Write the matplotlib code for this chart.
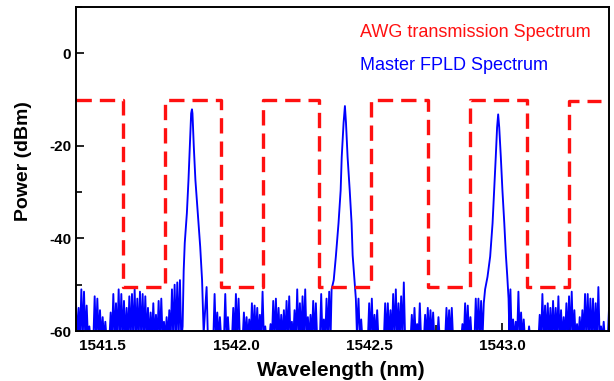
import numpy as np
import matplotlib
matplotlib.use('Agg')
import matplotlib.pyplot as plt
from matplotlib.ticker import MultipleLocator

# AWG transmission: step edges (nm) and levels (dBm)
awg_edges = [1541.40, 1541.576, 1541.733, 1541.945, 1542.102, 1542.312,
             1542.506, 1542.720, 1542.879, 1543.092, 1543.250, 1543.370]
awg_levels = [-10, -50.5, -10, -50.5, -10, -50.5, -10, -50.5, -10, -50.5, -10.2]

# Master FPLD noise spikes, one every 0.01 nm from 1541.40 (None = under a peak)
noise_start = 1541.40
noise_step = 0.01
noise_floor = -62.0
noise_db = [
    -54, -55, -51, -51.5, -54.5, -59, -61, -52.5, -53, -55.5,
    -57, -58, -61, -56, -52, -54, -51, -52, -53.5, -55,
    -52.5, -52, -51, -53, -51.5, -52, -52.5, -55, -56, -54,
    -56.5, -53.5, -53, -58, -57, -55.5, -51, -50, -49.5, -49,
    -59,
    None, None, None, None, None, None, None, None,
    -50.5,
    -60.5, -60, -52, -56, -57, -61, -52, -57, -61, -55,
    -52, -53, -61, -56, -57, -57.5, -54, -54.5, -55, -56.5,
    -51.5, -59, -61, -58.5, -53.5, -53, -55, -56.5, -55.5, -53.5,
    -52.5, -58, -55.5, -51, -54, -52.5, -51, -57, -56.5, -53.5,
    -54, -61, -52, -57.5, -53, -51.5,
    None, None, None, None, None, None, None, None, None, None,
    -53, -57.5, -61, -61, -54, -53, -56.5, -55.5, -61, -61,
    -54, -54, -55.5, -52, -51, -54, -52.5, -49.5, -61, -61,
    -56.5, -55, -58.5, -54, -61, -56.5, -55, -55.5, -56, -61,
    -57, -61, -61, -55, -55.5, -55, -61, -61, -61, -58.5,
    -54, -54.5, -57, -61, -53,
    -53, -53.5, -54,
    None, None, None, None, None, None, None, None, None,
    -51, -57.5, -58, -51.5, -56, -57.5, -60, -59, -61, -61,
    -61, -56.5, -52, -54.5, -54, -55, -53.5, -55, -52.5, -55.5,
    -57, -54, -52.5, -51.5, -55.5, -58.5, -57, -55.5, -52, -52,
    -53, -53, -54, -50.5, -59, -58, -61, -55,
]

# lasing modes
peak1_nm = [1541.804, 1541.808, 1541.816, 1541.822, 1541.827, 1541.832, 1541.835,
            1541.837, 1541.842, 1541.848, 1541.857, 1541.866, 1541.873, 1541.879]
peak1_db = [-47, -41, -34.5, -27.4, -20.2, -13, -12.1,
            -13, -20.2, -27.4, -34.5, -41.8, -49, -60.5]
peak2_nm = [1542.359, 1542.367, 1542.375, 1542.385, 1542.393, 1542.397, 1542.404,
            1542.409, 1542.413, 1542.419, 1542.427, 1542.434, 1542.438, 1542.445,
            1542.450, 1542.454]
peak2_db = [-51, -49, -43.9, -36.7, -29.6, -22.4, -15,
            -11.4, -15, -22.4, -29.6, -36.7, -43.6, -49,
            -53, -60.5]
peak3_nm = [1542.935, 1542.944, 1542.954, 1542.963, 1542.969, 1542.975, 1542.980,
            1542.984, 1542.988, 1542.994, 1543.000, 1543.007, 1543.013, 1543.018,
            1543.023, 1543.026]
peak3_db = [-51, -48.3, -43.9, -36.7, -29.6, -22.4, -16,
            -13.2, -16, -22.4, -29.6, -36.7, -43.6, -48,
            -53, -60.5]

# build the blue trace: each noise sample is a spike rising from the floor
noise_nm = noise_start + noise_step * np.arange(len(noise_db))
keep = np.array([v is not None for v in noise_db])
spike_x = noise_nm[keep]
spike_y = np.array([v for v in noise_db if v is not None], dtype=float)
floor_x = spike_x + noise_step / 2
floor_y = np.full_like(floor_x, noise_floor)
# no floor dips inside the peaks
inside = np.zeros(len(floor_x), dtype=bool)
for px in (peak1_nm, peak2_nm, peak3_nm):
    inside |= (floor_x > px[0]) & (floor_x < px[-1])
blue_x = np.concatenate([spike_x, floor_x[~inside], peak1_nm, peak2_nm, peak3_nm])
blue_y = np.concatenate([spike_y, floor_y[~inside], peak1_db, peak2_db, peak3_db])
order = np.argsort(blue_x)
blue_x, blue_y = blue_x[order], blue_y[order]

fig = plt.figure(figsize=(6.14, 3.81), dpi=100)
ax = fig.add_axes([0.1238, 0.1312, 0.8681, 0.8504])

ax.plot(blue_x, blue_y, color='#0000ff', lw=1.35)
ax.step(awg_edges, awg_levels + [awg_levels[-1]], where='post',
        color='#ff1010', lw=2.4, dashes=(4.6, 2.4))

ax.set_xlim(1541.4, 1543.4)
ax.set_ylim(-60, 10)
ax.xaxis.set_major_locator(MultipleLocator(0.5))
ax.xaxis.set_minor_locator(MultipleLocator(0.25))
ax.yaxis.set_major_locator(MultipleLocator(20))
ax.yaxis.set_minor_locator(MultipleLocator(10))
ax.xaxis.set_major_formatter(plt.FuncFormatter(lambda v, p: f'{v:.1f}'))
ax.yaxis.set_major_formatter(plt.FuncFormatter(lambda v, p: f'{v:.0f}'))
ax.tick_params(which='major', direction='in', length=6, width=1.2,
               labelsize=11)
ax.tick_params(axis='x', which='major', pad=6)
ax.tick_params(which='minor', direction='in', length=4, width=1.2)
for lab in ax.get_xticklabels() + ax.get_yticklabels():
    lab.set_fontweight('bold')
    lab.set_family('Liberation Sans')
for sp in ax.spines.values():
    sp.set_linewidth(1.4)

ax.set_xlabel('Wavelength (nm)', fontsize=15, fontweight='bold',
              family='Liberation Sans')
ax.set_ylabel('Power (dBm)', fontsize=14, fontweight='bold',
              family='Liberation Sans')
ax.xaxis.set_label_coords(0.497, -0.094)
ax.yaxis.set_label_coords(-0.082, 0.525)

ax.text(0.533, 0.920, 'AWG transmission Spectrum', transform=ax.transAxes,
        color='#ff1010', fontsize=13, family='Liberation Sans', va='center')
ax.text(0.533, 0.821, 'Master FPLD Spectrum', transform=ax.transAxes,
        color='#0000ff', fontsize=13, family='Liberation Sans', va='center')

fig.savefig('out.png', dpi=100)
